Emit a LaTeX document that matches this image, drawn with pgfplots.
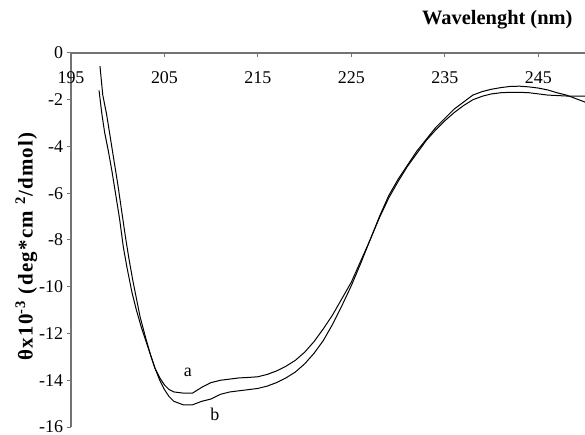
\documentclass[border=0pt]{standalone}
\usepackage{fontspec}
\setmainfont{Liberation Serif}
\usepackage{pgfplots}
\pgfplotsset{compat=1.18}

\begin{document}
\begin{tikzpicture}
\begin{axis}[
    scale only axis,
    width=514bp, height=374bp,
    xmin=195, xmax=250, ymin=-16, ymax=0,
    axis x line*=top, axis y line*=left,
    axis line style={black!55, line width=1.3bp},
    every tick/.style={black!55, line width=1bp},
    major tick length=4.5bp,
    xtick align=inside, ytick align=outside,
    xtick={195,205,...,245},
    xticklabels={195,205,215,225,235,245},
    ytick={-16,-14,...,0},
    yticklabels={-16,-14,-12,-10,-8,-6,-4,-2,0},
    tick label style={font=\fontsize{18}{21}\selectfont},
    x tick label style={anchor=center, yshift=-25bp},
    xlabel={\textbf{Wavelenght (nm)}},
    xlabel style={font=\fontsize{20.5}{24}\selectfont, at={(axis description cs:1,1)}, anchor=south east, xshift=-9bp, yshift=20bp},
    ylabel={\textbf{θx10\textsuperscript{-3} (deg*cm\ \textsuperscript{2}/dmol)}},
    ylabel style={font=\fontsize{21}{24}\selectfont\addfontfeature{LetterSpace=6}, at={(axis description cs:-0.087,0.485)}, anchor=center},
]
% curve a
\addplot[black, line width=1bp] coordinates {
(198.1,-0.56) (198.4,-1.8) (198.8,-2.6) (199.2,-3.6) (199.6,-4.6) (200.0,-5.6)
(200.4,-6.7) (200.8,-7.8) (201.2,-8.8) (201.6,-9.7) (202.0,-10.5) (202.4,-11.3)
(203.0,-12.2) (203.5,-12.9) (204.0,-13.5) (204.5,-13.9) (205.0,-14.2) (205.5,-14.4)
(206.0,-14.5) (207.0,-14.55) (208.0,-14.55) (209.0,-14.3) (210.0,-14.1) (211.0,-14.0)
(212.0,-13.95) (213.0,-13.9) (214.0,-13.88) (215.0,-13.85) (216.0,-13.75) (217.0,-13.6)
(218.0,-13.4) (219.0,-13.15) (220.0,-12.8) (221.0,-12.35) (222.0,-11.8) (223.0,-11.2)
(224.0,-10.5) (225.0,-9.8) (226.0,-8.9) (227.0,-8.0) (228.0,-7.0) (229.0,-6.1)
(230.0,-5.4) (231.0,-4.8) (232.0,-4.2) (233.0,-3.7) (234.0,-3.2) (235.0,-2.8)
(236.0,-2.4) (237.0,-2.1) (238.0,-1.8) (239.0,-1.65) (240.0,-1.55) (241.0,-1.48)
(242.0,-1.43) (243.0,-1.42) (244.0,-1.45) (245.0,-1.5) (246.0,-1.58) (247.0,-1.7)
(248.0,-1.8) (249.0,-1.95) (250.0,-2.1)
};
% curve b
\addplot[black, line width=1bp] coordinates {
(198.0,-1.6) (198.3,-2.6) (198.6,-3.4) (199.0,-4.2) (199.4,-5.1) (199.8,-6.1)
(200.2,-7.1) (200.6,-8.3) (201.0,-9.2) (201.5,-10.2) (202.0,-11.0) (202.5,-11.7)
(203.0,-12.3) (203.5,-12.9) (204.0,-13.5) (204.5,-14.0) (205.0,-14.4) (205.5,-14.7)
(206.0,-14.9) (207.0,-15.05) (208.0,-15.05) (209.0,-14.9) (210.0,-14.8) (211.0,-14.6)
(212.0,-14.5) (213.0,-14.45) (214.0,-14.4) (215.0,-14.35) (216.0,-14.25) (217.0,-14.1)
(218.0,-13.9) (219.0,-13.65) (220.0,-13.3) (221.0,-12.85) (222.0,-12.3) (223.0,-11.6)
(224.0,-10.8) (225.0,-9.95) (226.0,-9.0) (227.0,-8.0) (228.0,-7.05) (229.0,-6.2)
(230.0,-5.5) (231.0,-4.85) (232.0,-4.3) (233.0,-3.75) (234.0,-3.3) (235.0,-2.9)
(236.0,-2.55) (237.0,-2.25) (238.0,-2.0) (239.0,-1.85) (240.0,-1.75) (241.0,-1.7)
(242.0,-1.68) (243.0,-1.68) (244.0,-1.7) (245.0,-1.75) (246.0,-1.8) (247.0,-1.82)
(248.0,-1.84) (249.0,-1.84) (250.0,-1.84)
};
\node[font=\fontsize{18}{21}\selectfont] at (axis cs:207.5,-13.68) {a};
\node[font=\fontsize{18}{21}\selectfont] at (axis cs:210.4,-15.47) {b};
\end{axis}
\pgfresetboundingbox
\useasboundingbox (-71bp,-8bp) rectangle (514bp,427bp);
\end{tikzpicture}
\end{document}
